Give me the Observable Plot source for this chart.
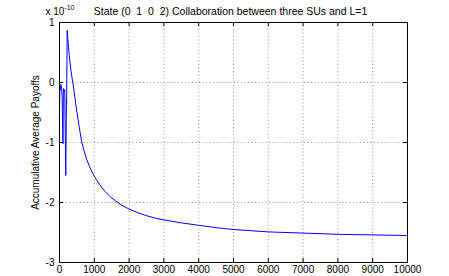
<!DOCTYPE html>
<html><head><meta charset="utf-8">
<script src="https://cdn.jsdelivr.net/npm/d3@7"></script>
<script src="https://cdn.jsdelivr.net/npm/@observablehq/plot@0.6"></script>
<style>
body{margin:0;background:#fff}
svg{font-family:"Liberation Sans",Arial,Helvetica,sans-serif}
</style>
</head><body><div id="chart"></div>
<script>
const title = "State (0  1  0  2) Collaboration between three SUs and L=1";
const yLabel = "Accumulative Average Payoffs";
const exponentBase = "x 10";
const exponentPower = "-10";
const xTicks = [0,1000,2000,3000,4000,5000,6000,7000,8000,9000,10000];
const yTicks = [-3,-2,-1,0,1];
const iterations = [0,10,25,40,60,75,100,112,130,150,180,195,200,205,221,240,260,280,300,330,360,388,420,460,503,560,632,700,780,862,950,1050,1150,1300,1450,1600,1800,2000,2250,2500,2750,3000,3500,4000,4500,5000,5500,6000,7000,8000,9000,10000];
const payoffs = [-0.45,-0.05,-0.12,-0.03,-0.1,-0.25,-1.02,-0.1,-0.15,-0.12,-1.55,-0.6,-0.28,-0.35,0.87,0.72,0.58,0.45,0.34,0.2,0.08,-0.02,-0.15,-0.33,-0.5,-0.72,-0.97,-1.13,-1.28,-1.4,-1.51,-1.61,-1.7,-1.81,-1.9,-1.97,-2.05,-2.11,-2.17,-2.22,-2.26,-2.29,-2.34,-2.38,-2.42,-2.45,-2.47,-2.49,-2.51,-2.53,-2.54,-2.55];

const data = iterations.map((x, i) => ({x, y: payoffs[i]}));
const W = 449, H = 276, mL = 59, mR = 42, mT = 22, mB = 14;
const xDom = [0, 10000], yDom = [-3, 1];
const xTickLen = 4 * (xDom[1] - xDom[0]) / (W - mL - mR);
const yTickLen = 4 * (yDom[1] - yDom[0]) / (H - mT - mB);

const chart = Plot.plot({
  width: W, height: H,
  marginLeft: mL, marginRight: mR, marginTop: mT, marginBottom: mB,
  style: {fontSize: "10px", fontFamily: "'Liberation Sans', Arial, sans-serif", background: "#fff", color: "#000"},
  x: {domain: xDom, ticks: xTicks, label: null},
  y: {domain: yDom, ticks: yTicks, label: null},
  marks: [
    Plot.gridX(xTicks, {stroke: "#666", strokeOpacity: 0.7, strokeDasharray: "1,2.5"}),
    Plot.gridY(yTicks, {stroke: "#666", strokeOpacity: 0.7, strokeDasharray: "1,2.5"}),
    Plot.axisX(xTicks, {anchor: "bottom", tickSize: 0, tickPadding: 3, tickFormat: d => String(d), label: null}),
    Plot.axisY(yTicks, {anchor: "left", tickSize: 0, tickPadding: 5, tickFormat: d => String(d), label: null}),
    Plot.ruleX(xTicks, {x: d => d, y1: yDom[0], y2: yDom[0] + yTickLen, stroke: "#000"}),
    Plot.ruleX(xTicks, {x: d => d, y1: yDom[1] - yTickLen, y2: yDom[1], stroke: "#000"}),
    Plot.ruleY(yTicks, {y: d => d, x1: xDom[0], x2: xDom[0] + xTickLen, stroke: "#000"}),
    Plot.ruleY(yTicks, {y: d => d, x1: xDom[1] - xTickLen, x2: xDom[1], stroke: "#000"}),
    Plot.line(data, {x: "x", y: "y", stroke: "#0000ff", strokeWidth: 1, curve: "linear"}),
    Plot.frame({stroke: "#000", strokeWidth: 1}),
    Plot.text([title], {frameAnchor: "top", dx: -3, dy: -11, fontSize: 10.5, fill: "#000", lineAnchor: "middle"}),
    Plot.text([yLabel], {frameAnchor: "left", dx: -24, rotate: -90, fontSize: 10, fill: "#000", textAnchor: "middle"})
  ]
});
d3.select(chart).selectAll("text").style("white-space", "pre");
const ex = d3.select(chart).append("text")
  .attr("x", mL + 1).attr("y", 15)
  .attr("font-size", 10).attr("fill", "#000");
ex.append("tspan").text(exponentBase);
ex.append("tspan").attr("dy", -5).attr("font-size", 7).text(exponentPower);
document.getElementById("chart").appendChild(chart);
</script>
</body></html>
